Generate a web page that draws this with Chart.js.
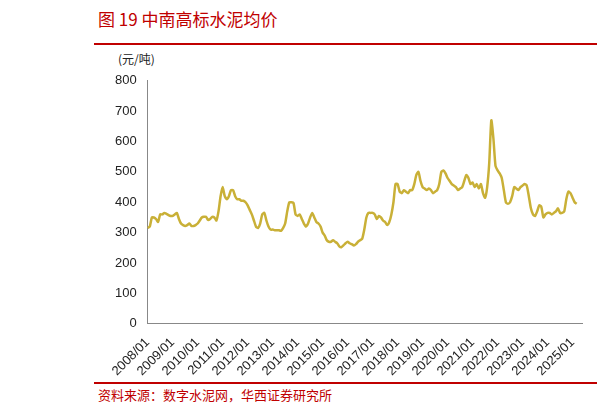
<!DOCTYPE html>
<html><head><meta charset="utf-8">
<script src="https://cdn.jsdelivr.net/npm/chart.js@4"></script>
<style>
body{margin:0;background:#fff;font-family:"Noto Sans CJK SC","Noto Sans",sans-serif;}
#w{position:relative;width:597px;height:416px;}
#t{position:absolute;left:98px;top:6px;font-size:17px;color:#c00000;}
#l1{position:absolute;left:94px;top:43px;width:503px;height:2px;background:#c00000;}
#l2{position:absolute;left:94px;top:382px;width:503px;height:2px;background:#c00000;}
#s{position:absolute;left:98px;top:385px;font-size:13px;color:#c00000;}
#u{position:absolute;left:118px;top:50px;font-size:12px;color:#222;}
#c{position:absolute;left:94px;top:70px;width:503px;height:312px;}
</style></head><body>
<div id="w">
<div id="t">图 19 中南高标水泥均价</div><div id="l1"></div>
<div id="u">(元/吨)</div>
<div id="c"><canvas id="cv"></canvas></div>
<div id="l2"></div>
<div id="s">资料来源：数字水泥网，华西证券研究所</div>
</div>
<script>
const years=[2008,2009,2010,2011,2012,2013,2014,2015,2016,2017,2018,2019,2020,2021,2022,2023,2024,2025];
const v2008=[315,320,350,350,345,335,360,360,365,362,358,355];
const v2009=[355,360,365,345,330,325,322,325,330,322,322,325];
const v2010=[330,340,350,352,352,342,345,352,350,340,370,420];
const v2011=[450,420,410,420,440,440,420,410,410,405,405,400];
const v2012=[390,375,360,340,320,315,330,360,365,340,320,310];
const v2013=[310,308,308,308,306,315,330,370,400,400,398,360];
const v2014=[355,360,345,330,320,330,350,365,350,335,330,320];
const v2015=[300,290,275,270,270,275,270,265,255,252,258,265];
const v2016=[270,265,262,258,262,270,275,280,310,350,365,365];
const v2017=[365,360,345,355,350,340,335,325,335,360,400,460];
const v2018=[460,435,430,440,435,430,440,440,460,490,500,470];
const v2019=[450,445,440,445,440,430,435,440,460,500,505,495];
const v2020=[480,470,460,455,450,440,445,450,470,490,480,460];
const v2021=[465,450,460,445,460,430,415,450,530,670,610,520];
const v2022=[505,495,480,440,400,395,400,420,450,445,440,450];
const v2023=[455,460,455,420,380,360,355,370,390,385,350,360];
const v2024=[365,365,360,365,370,380,365,365,370,410,435,430];
const v2025=[415,400,395];
const series=[v2008,v2009,v2010,v2011,v2012,v2013,v2014,v2015,v2016,v2017,v2018,v2019,v2020,v2021,v2022,v2023,v2024,v2025];
const labels=[],data=[];
series.forEach((a,i)=>a.forEach((v,m)=>{labels.push(years[i]+'/'+String(m+1).padStart(2,'0'));data.push(v);}));
for(let m=4;m<=6;m++){labels.push('2025/0'+m);data.push(null);}
new Chart(document.getElementById('cv'),{type:'line',
data:{labels,datasets:[{data,borderColor:'#c9b037',borderWidth:2.5,pointRadius:0,tension:0.2}]},
options:{responsive:true,maintainAspectRatio:false,animation:false,
plugins:{legend:{display:false},tooltip:{enabled:false}},
layout:{padding:{top:4,right:4,left:18}},
scales:{
y:{min:0,max:800,ticks:{stepSize:100,color:'#222',font:{size:13,family:'Liberation Sans'}},grid:{display:false},border:{color:'#888'}},
x:{grid:{display:false},border:{color:'#888'},ticks:{autoSkip:false,maxRotation:45,minRotation:45,color:'#222',font:{size:13,family:'Liberation Sans'},
callback:function(v){const l=this.getLabelForValue(v);return l.endsWith('/01')?l:'';}}}}}});
</script></body></html>
